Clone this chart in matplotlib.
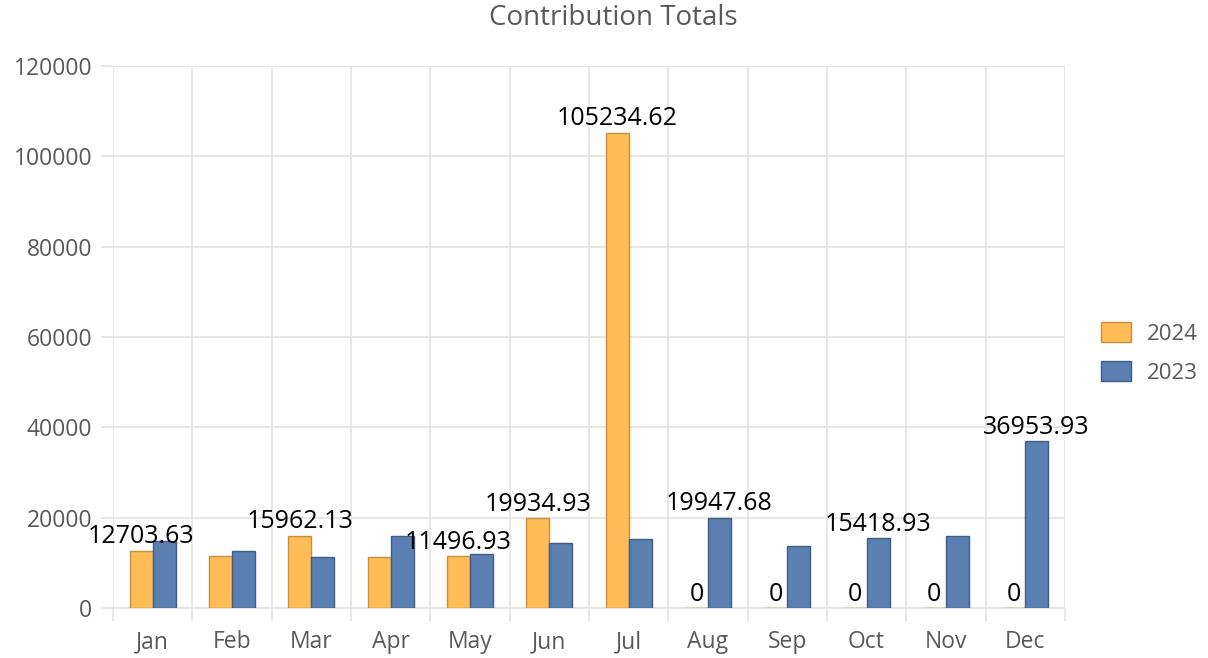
import numpy as np
import matplotlib.pyplot as plt
from matplotlib.ticker import FixedLocator

plt.rcParams['font.family'] = ['Open Sans', 'DejaVu Sans']

# Monthly contribution totals
months = ["Jan", "Feb", "Mar", "Apr", "May", "Jun", "Jul", "Aug", "Sep", "Oct", "Nov", "Dec"]
totals_2024 = [12703.63, 11580, 15962.13, 11300, 11496.93, 19934.93, 105234.62, 0, 0, 0, 0, 0]
totals_2023 = [14830, 12700, 11290, 15940, 11950, 14320, 15300, 19947.68, 13690, 15418.93, 16030, 36953.93]

# which data labels the original chart kept visible
show_2024 = [True, False, True, False, True, True, True, True, True, True, True, True]
show_2023 = [False, False, False, False, False, False, False, True, False, True, False, True]

yticks = [0, 20000, 40000, 60000, 80000, 100000, 120000]

c24, e24 = "#FFBC57", "#C98F3C"
c23, e23 = "#5B7FB0", "#3E5C88"
grid_c = "#E3E3E3"
text_c = "#595959"

fig = plt.figure(figsize=(12.08, 6.58), dpi=100)
ax = fig.add_axes([0.0935, 0.076, 0.788, 0.824])

x = np.arange(len(months))
w = 0.29
b24 = ax.bar(x - w / 2, totals_2024, w, color=c24, edgecolor=e24, linewidth=1, label="2024", zorder=3)
b23 = ax.bar(x + w / 2, totals_2023, w, color=c23, edgecolor=e23, linewidth=1, label="2023", zorder=3)

def fmt(v):
    return "0" if v == 0 else f"{v:.2f}"

ax.bar_label(b24, labels=[fmt(v) if s else "" for v, s in zip(totals_2024, show_2024)],
             padding=1, fontsize=18, color="black", zorder=4)
ax.bar_label(b23, labels=[fmt(v) if s else "" for v, s in zip(totals_2023, show_2023)],
             padding=1, fontsize=18, color="black", zorder=4)

ax.set_xlim(-0.5, len(months) - 0.5)
ax.set_ylim(0, 120000)
ax.set_yticks(yticks)
ax.set_yticklabels([str(t) for t in yticks])
ax.set_xticks(x)
ax.set_xticklabels(months)
ax.xaxis.set_minor_locator(FixedLocator(np.arange(-0.5, len(months), 1)))

ax.tick_params(axis="x", which="major", length=0, pad=16, labelsize=16.5, labelcolor=text_c)
ax.tick_params(axis="x", which="minor", length=9, color=grid_c, width=1.2)
ax.tick_params(axis="y", which="major", length=9, color=grid_c, width=1.2, pad=6,
               labelsize=16.5, labelcolor=text_c)

ax.grid(axis="y", which="major", color=grid_c, linewidth=1.2, zorder=0)
ax.grid(axis="x", which="minor", color=grid_c, linewidth=1.2, zorder=0)
for s in ax.spines.values():
    s.set_visible(False)
ax.spines["bottom"].set_visible(True)
ax.spines["bottom"].set_color(grid_c)
ax.spines["bottom"].set_linewidth(1.2)

fig.text(0.508, 0.972, "Contribution Totals", ha="center", va="center", fontsize=20, color=text_c)

fig.legend(handles=[b24, b23], labels=["2024", "2023"], loc="center left",
           bbox_to_anchor=(0.895, 0.464), frameon=False, fontsize=16,
           handlelength=1.35, handleheight=1.05, handletextpad=0.7, labelspacing=0.72,
           labelcolor=text_c)

fig.savefig("out.png", dpi=100)
